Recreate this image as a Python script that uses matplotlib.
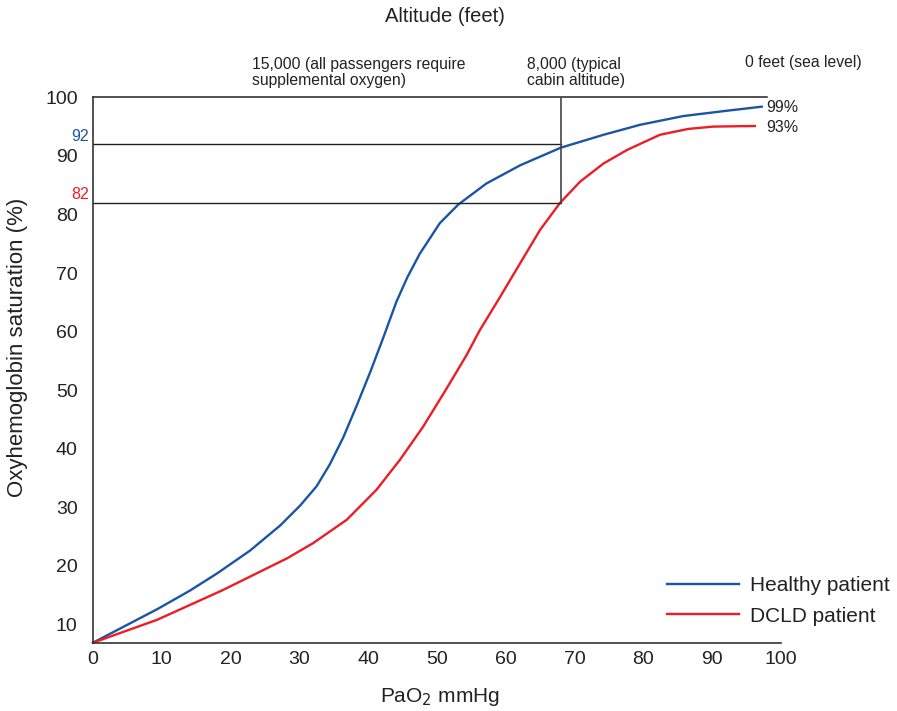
import matplotlib
matplotlib.use("Agg")
import matplotlib.pyplot as plt

plt.rcParams['font.family'] = ['Liberation Sans', 'DejaVu Sans']

# Data
healthy_x = [0, 4.4, 9.3, 14.1, 18.0, 22.8, 27.2, 30.1, 32.5, 34.4, 36.4, 38.3, 40.3,
             42.2, 44.1, 45.7, 47.5, 50.4, 53.1, 57.2, 62.1, 68.0, 74.2, 79.5, 85.8,
             92.1, 97.2]
healthy_y = [6.9, 9.6, 12.6, 15.8, 18.7, 22.6, 26.9, 30.3, 33.6, 37.3, 42.0, 47.3, 53.1,
             59.0, 65.1, 69.3, 73.3, 78.5, 81.7, 85.3, 88.4, 91.4, 93.6, 95.3, 96.8,
             97.7, 98.4]
dcld_x = [0, 9.3, 18.9, 28.2, 32.0, 36.9, 41.2, 44.6, 48.0, 51.4, 54.3, 56.2, 58.9,
          62.1, 65.0, 67.9, 70.8, 74.2, 77.6, 82.4, 86.5, 90.2, 96.2]
dcld_y = [6.9, 10.8, 15.9, 21.3, 23.9, 27.9, 33.0, 38.1, 43.8, 50.3, 56.0, 60.2, 65.4,
          71.7, 77.4, 82.0, 85.6, 88.7, 91.0, 93.6, 94.6, 95.0, 95.1]

x_ticks = [0, 10, 20, 30, 40, 50, 60, 70, 80, 90, 100]
y_ticks = [10, 20, 30, 40, 50, 60, 70, 80, 90, 100]
cabin_x = 68
healthy_cabin = 92
dcld_cabin = 82
box_right = 98
altitude_labels = ["15,000 (all passengers require\nsupplemental oxygen)",
                   "8,000 (typical\ncabin altitude)",
                   "0 feet (sea level)"]
end_labels = ["99%", "93%"]

blue = '#1a55a5'
red = '#ee1c25'
dark = '#333333'
txt = '#222222'

W, H = 897, 711
fig = plt.figure(figsize=(W / 100, H / 100), dpi=100)
ax = fig.add_axes([93 / W, 1 - 642.7 / H, (781 - 93) / W, (642.7 - 97.3) / H])

ax.plot(healthy_x, healthy_y, color=blue, lw=1.7, label='Healthy patient',
        clip_on=False, solid_joinstyle='round')
ax.plot(dcld_x, dcld_y, color=red, lw=1.7, label='DCLD patient',
        clip_on=False, solid_joinstyle='round')

ax.set_xlim(0, 100)
ax.set_ylim(6.9, 100)
ax.set_xticks(x_ticks)
ax.set_yticks(y_ticks)
ax.tick_params(length=0, labelsize=14, colors=txt)
ax.tick_params(axis='y', pad=11)
ax.tick_params(axis='x', pad=6)
for s in ['top', 'right']:
    ax.spines[s].set_visible(False)
for s in ['left', 'bottom']:
    ax.spines[s].set_color(dark)
    ax.spines[s].set_linewidth(1.2)

# reference lines
ax.plot([0, box_right], [100, 100], color=txt, lw=1.1, clip_on=False)
ax.plot([0, cabin_x], [healthy_cabin, healthy_cabin], color=txt, lw=1.0)
ax.plot([0, cabin_x], [dcld_cabin, dcld_cabin], color=txt, lw=1.0)
ax.plot([cabin_x, cabin_x], [dcld_cabin, 100], color='#444444', lw=1.2)

ax.text(-0.55, healthy_cabin + 0.1, str(healthy_cabin), color=blue, fontsize=11.5,
        ha='right', va='bottom')
ax.text(-0.55, dcld_cabin + 0.1, str(dcld_cabin), color=red, fontsize=11.5,
        ha='right', va='bottom')

fig.text(766 / W, 1 - 107 / H, end_labels[0], fontsize=11.5, ha='left', va='center', color=txt)
fig.text(766 / W, 1 - 127 / H, end_labels[1], fontsize=11.5, ha='left', va='center', color=txt)

fig.text(252 / W, 1 - 72.5 / H, altitude_labels[0], fontsize=11.3, ha='left', va='center',
         color=txt, linespacing=1.15)
fig.text(527 / W, 1 - 72.5 / H, altitude_labels[1], fontsize=11.3, ha='left', va='center',
         color=txt, linespacing=1.15)
fig.text(745 / W, 1 - 63 / H, altitude_labels[2], fontsize=11.3, ha='left', va='center',
         color=txt)

fig.text(445 / W, 1 - 17 / H, 'Altitude (feet)', fontsize=14.5, ha='center', va='center',
         color=txt)
fig.text(18 / W, 1 - 347 / H, 'Oxyhemoglobin saturation (%)', fontsize=16, rotation=90,
         ha='center', va='center', color=txt)
fig.text(440 / W, 1 - 697 / H, 'PaO$_2$ mmHg', fontsize=15, ha='center', va='center',
         color=txt)

leg = ax.legend(loc='center left', bbox_to_anchor=(667 / W, 1 - 601 / H),
                bbox_transform=fig.transFigure, frameon=False, fontsize=15,
                handlelength=3.45, handletextpad=0.55, labelspacing=0.55,
                borderpad=0, borderaxespad=0)
for t in leg.get_texts():
    t.set_color(txt)

fig.savefig('out.png', dpi=100)
